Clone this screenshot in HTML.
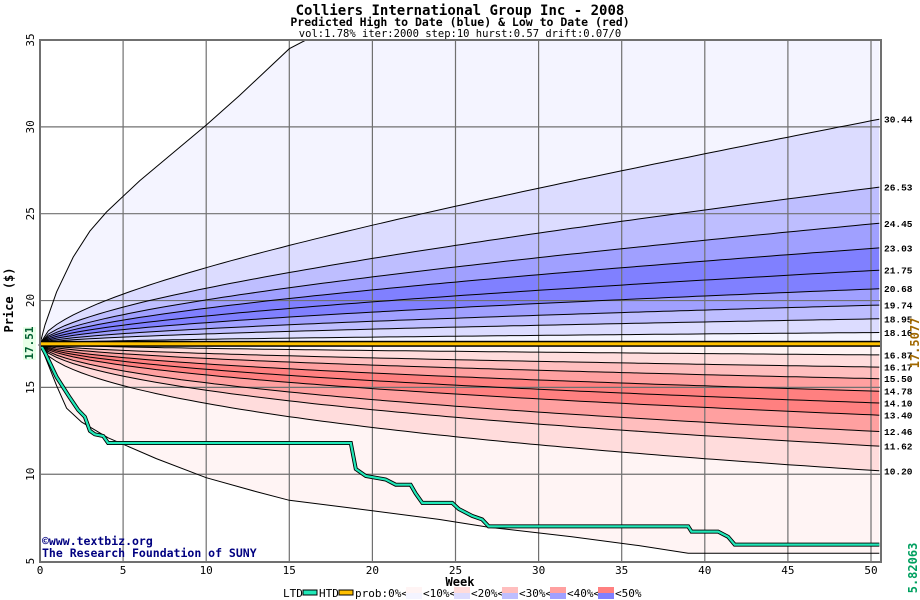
<!DOCTYPE html>
<html><head><meta charset="utf-8"><style>
body{margin:0;background:#fff;}
svg{display:block;font-family:"DejaVu Sans Mono","Liberation Mono",monospace;}
</style></head><body>
<svg id="s" width="920" height="600" xmlns="http://www.w3.org/2000/svg"></svg>
<script>
const S=document.getElementById('s');
const X=w=>40+w*16.62, Y=p=>40+(35-p)*17.37;
const W=50.5;
let h='';
h+='<rect x="40" y="40" width="841" height="522" fill="#fff"/>';
function curve(v){let pts=[];for(let i=0;i<=101;i++){let t=i*W/101;let f=Math.pow(t/W,0.56);pts.push([X(t),Y(17.51*Math.exp(Math.log(v/17.51)*f))]);}return pts;}
const topO=[[0,17.51],[0.3,18.6],[1,20.5],[2,22.5],[3,24],[4,25.1],[6,26.9],[8,28.5],[10,30.1],[12,31.8],[15,34.5],[16,35],[W,35]];
const botO=[[0,17.51],[0.5,16.3],[1,15.1],[1.6,13.8],[2.5,13.0],[4.1,12.1],[7,10.9],[10,9.8],[13,9.0],[15,8.5],[20,7.9],[24,7.4],[27,6.95],[32,6.4],[36,5.9],[39,5.45],[W,5.45]];
const tp=a=>a.map(p=>[X(p[0]),Y(p[1])]);
const ps=a=>a.map(p=>p[0].toFixed(1)+','+p[1].toFixed(1)).join(' ');
function band(a,b,c){h+='<polygon points="'+ps(a)+' '+ps(b.slice().reverse())+'" fill="'+c+'"/>';}
const blue=[30.44,26.53,24.45,23.03,21.75,20.68,19.74,18.95,18.16];
const red=[16.87,16.17,15.50,14.78,14.10,13.40,12.46,11.62,10.20];
const bc=['#dcdcff','#bebeff','#a0a0ff','#8080ff','#8080ff','#a0a0ff','#bebeff','#dcdcff','#f4f4ff'];
const rc=['#fff4f4','#ffdcdc','#ffbebe','#ffa0a0','#ff8080','#ff8080','#ffa0a0','#ffbebe','#ffdcdc'];
let T=tp(topO),B=tp(botO);
band(T,curve(30.44),'#f4f4ff');
for(let i=0;i<8;i++)band(curve(blue[i]),curve(blue[i+1]),bc[i]);
band(curve(18.16),curve(17.51),'#f4f4ff');
band(curve(17.51),curve(16.87),rc[0]);
for(let i=0;i<8;i++)band(curve(red[i]),curve(red[i+1]),rc[i+1]);
band(curve(10.20),B,'#fff4f4');
for(let w=5;w<=50;w+=5)h+=`<line x1="${X(w)}" y1="40" x2="${X(w)}" y2="562" stroke="#707070" stroke-width="1.2"/>`;
for(let p=10;p<=30;p+=5)h+=`<line x1="40" y1="${Y(p)}" x2="881" y2="${Y(p)}" stroke="#707070" stroke-width="1.2"/>`;
[...blue,...red].forEach(v=>h+='<polyline points="'+ps(curve(v))+'" fill="none" stroke="#000" stroke-width="1"/>');
h+='<polyline points="'+ps(T)+'" fill="none" stroke="#000" stroke-width="1"/>';
h+='<polyline points="'+ps(B)+'" fill="none" stroke="#000" stroke-width="1"/>';
const htd=[[0,17.51],[0.3,17.0],[1,15.6],[1.8,14.4],[2.3,13.7],[2.7,13.3],[3,12.5],[3.3,12.3],[3.8,12.2],[4.1,11.8],[18.7,11.8],[19,10.3],[19.6,9.9],[20.8,9.7],[21.4,9.4],[22.3,9.4],[22.6,8.9],[23,8.35],[24.8,8.35],[25.2,8.0],[26,7.6],[26.6,7.4],[27,7.0],[39,7.0],[39.2,6.7],[40.8,6.7],[41.4,6.4],[41.8,5.95],[W,5.95]];
h+='<polyline points="'+ps(tp(htd))+'" fill="none" stroke="#000" stroke-width="4"/>';
h+='<polyline points="'+ps(tp(htd))+'" fill="none" stroke="#20e8b8" stroke-width="2.2"/>';
h+=`<rect x="40" y="${Y(17.51)-3}" width="841" height="6" fill="#000"/><rect x="40" y="${Y(17.51)-1.5}" width="841" height="3" fill="#ffc000"/>`;
h+='<rect x="40" y="40" width="841" height="522" fill="none" stroke="#707070" stroke-width="2"/>';
[...blue,...red].forEach(v=>{let y=Y(v);h+=`<text x="884" y="${y+3.5}" font-size="9.5" font-weight="bold" font-family="Liberation Mono,monospace">${v.toFixed(2)}</text>`;});
for(let p=5;p<=35;p+=5)h+=`<text transform="translate(34,${Y(p)}) rotate(-90)" text-anchor="middle" font-size="11">${p}</text>`;
for(let w=0;w<=50;w+=5)h+=`<text x="${X(w)}" y="574" text-anchor="middle" font-size="11">${w}</text>`;
h+=`<text transform="translate(13,300) rotate(-90)" text-anchor="middle" font-size="12" font-weight="bold">Price ($)</text>`;
h+=`<rect x="23" y="327" width="13" height="33" fill="#e8ffe8"/>`;
h+=`<text transform="translate(33,343) rotate(-90)" text-anchor="middle" font-size="11" font-weight="bold" fill="#006030">17.51</text>`;
h+=`<text transform="translate(919,343) rotate(-90)" text-anchor="middle" font-size="12" font-weight="bold" fill="#a06800">17.5077</text>`;
h+=`<text transform="translate(917,568) rotate(-90)" text-anchor="middle" font-size="12" font-weight="bold" fill="#00a060">5.82063</text>`;
h+=`<text x="460" y="586" text-anchor="middle" font-size="12" font-weight="bold">Week</text>`;
h+=`<text x="460" y="15" text-anchor="middle" font-size="14" font-weight="bold">Colliers International Group Inc - 2008</text>`;
h+=`<text x="460" y="26" text-anchor="middle" font-size="11.5" font-weight="bold">Predicted High to Date (blue) &amp;  Low to Date (red)</text>`;
h+=`<text x="460" y="37" text-anchor="middle" font-size="10.5">vol:1.78% iter:2000 step:10 hurst:0.57 drift:0.07/0</text>`;
h+=`<text x="42" y="545" font-size="11.5" font-weight="bold" fill="#000080">©www.textbiz.org</text>`;
h+=`<text x="42" y="557" font-size="11.5" font-weight="bold" fill="#000080">The Research Foundation of SUNY</text>`;
h+=`<text x="283" y="597" font-size="11">LTD</text><rect x="303" y="590" width="14" height="5" fill="#20e8b8" stroke="#000"/>`;
h+=`<text x="319" y="597" font-size="11">HTD</text><rect x="339" y="590" width="14" height="5" fill="#ffc000" stroke="#000"/>`;
h+=`<text x="355" y="597" font-size="11">prob:0%&lt;</text>`;
const lt=[['#fff4f4','#f4f4ff','&lt;10%&lt;'],['#ffdcdc','#dcdcff','&lt;20%&lt;'],['#ffbebe','#bebeff','&lt;30%&lt;'],['#ffa0a0','#a0a0ff','&lt;40%&lt;'],['#ff8080','#8080ff','&lt;50%']];
lt.forEach((l,i)=>{let x=406+i*48;h+=`<rect x="${x}" y="587" width="16" height="6" fill="${l[0]}"/><rect x="${x}" y="593" width="16" height="6" fill="${l[1]}"/><text x="${x+17}" y="597" font-size="11">${l[2]}</text>`;});
S.innerHTML=h;
</script>
</body></html>
